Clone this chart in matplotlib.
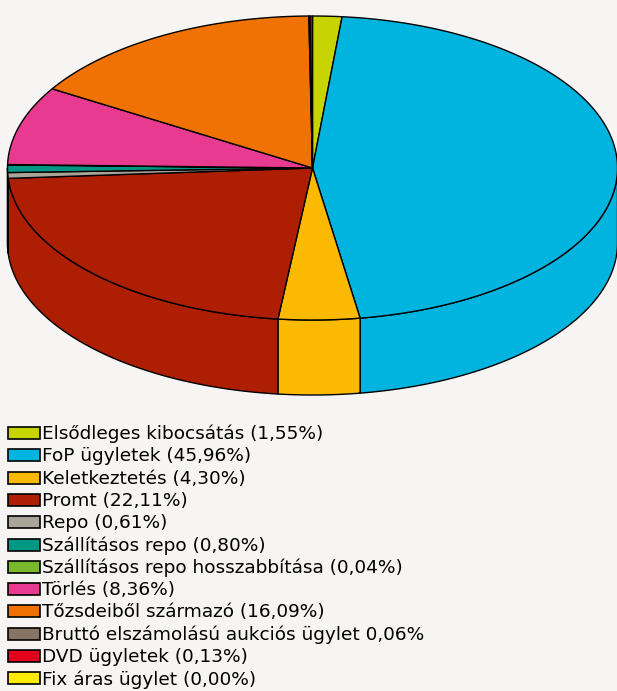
import matplotlib.pyplot as plt
import numpy as np
from matplotlib.patches import Polygon, Rectangle

labels = ["Elsődleges kibocsátás (1,55%)", "FoP ügyletek (45,96%)",
          "Keletkeztetés (4,30%)", "Promt (22,11%)", "Repo (0,61%)",
          "Szállításos repo (0,80%)", "Szállításos repo hosszabbítása (0,04%)",
          "Törlés (8,36%)", "Tőzsdeiből származó (16,09%)",
          "Bruttó elszámolású aukciós ügylet 0,06%", "DVD ügyletek (0,13%)",
          "Fix áras ügylet (0,00%)"]
shares = [1.55, 45.96, 4.30, 22.11, 0.61, 0.80, 0.04, 8.36, 16.09, 0.06, 0.13, 0.00]
colors = ["#c8d400", "#00b4e0", "#fbba00", "#ad1e02", "#a9a398", "#009884",
          "#7ab92b", "#e83a8e", "#ef7203", "#857463", "#e2001a", "#ffec00"]

bg = "#f6f5f3"
W, H = 617, 691
fig = plt.figure(figsize=(W / 100, H / 100), dpi=100, facecolor=bg)
ax = fig.add_axes([0, 0, 1, 1])
ax.set_xlim(0, W)
ax.set_ylim(H, 0)
ax.axis("off")

cx, cy, rx, ry, depth = 312.5, 168, 305, 152, 75


def rim(t):
    # t: clockwise angle from 12 o'clock, radians
    return cx + rx * np.sin(t), cy - ry * np.cos(t)


total = sum(shares)
bounds = np.concatenate([[0], np.cumsum(shares)]) / total * 2 * np.pi

# side walls (front half only)
for i in range(len(shares)):
    a, b = max(bounds[i], np.pi / 2), min(bounds[i + 1], 3 * np.pi / 2)
    if b <= a:
        continue
    t = np.linspace(a, b, 100)
    x, y = rim(t)
    pts = np.column_stack([np.r_[x, x[::-1]], np.r_[y, y[::-1] + depth]])
    ax.add_patch(Polygon(pts, closed=True, fc=colors[i], ec="black", lw=1))

# top faces
for i in range(len(shares)):
    a, b = bounds[i], bounds[i + 1]
    if b - a <= 0:
        continue
    t = np.linspace(a, b, max(int((b - a) * 60), 2))
    x, y = rim(t)
    pts = np.column_stack([np.r_[cx, x], np.r_[cy, y]])
    ax.add_patch(Polygon(pts, closed=True, fc=colors[i], ec="black", lw=1))

# legend
y0, dy = 433, 22.3
for i, lab in enumerate(labels):
    y = y0 + i * dy
    ax.add_patch(Rectangle((8, y - 6), 32, 12, fc=colors[i], ec="black", lw=1.2))
    ax.text(42, y + 1, lab, fontsize=13.3, va="center", ha="left",
            family="DejaVu Sans", color="black")

fig.savefig("out.png", dpi=100, facecolor=bg)
